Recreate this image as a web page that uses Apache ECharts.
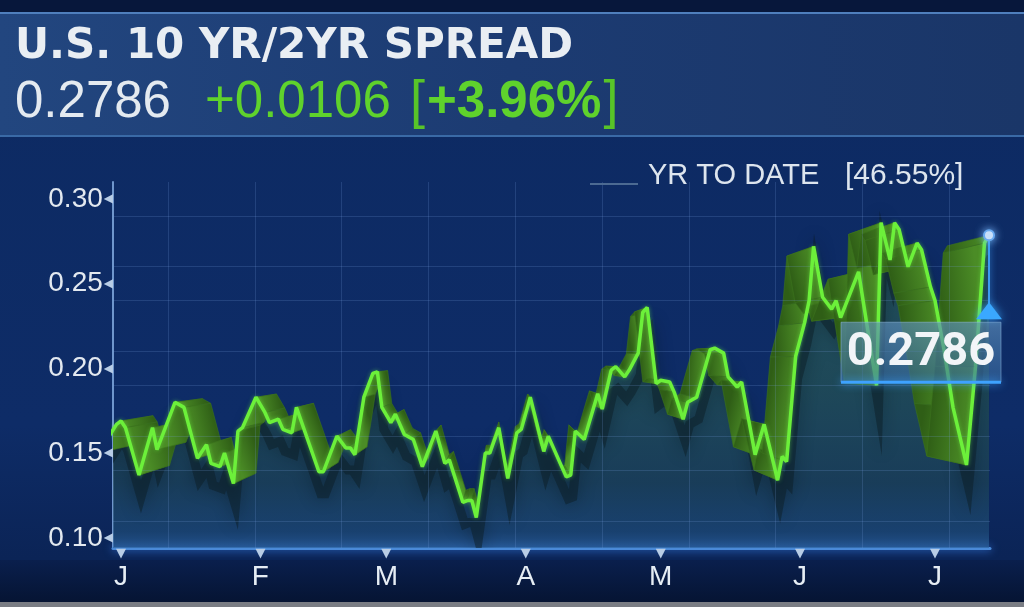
<!DOCTYPE html>
<html>
<head>
<meta charset="utf-8">
<script src="https://cdn.jsdelivr.net/npm/echarts@6/dist/echarts.min.js"></script>
<style>
html,body{margin:0;padding:0;background:#0c2659;}
#chart{width:1024px;height:607px;}
</style>
</head>
<body>
<div id="chart"></div>
<script>
// ---------------- data ----------------
const TITLE = 'U.S. 10 YR/2YR SPREAD';
const LAST_TEXT = '0.2786';
const CHANGE_TEXT = '+0.0106';
const CHANGE_PCT = '+3.96%';
const YTD_LABEL = 'YR TO DATE';
const YTD_PCT = '46.55%';

const DATES = [
 '2018-12-27','2018-12-31','2019-01-01','2019-01-02','2019-01-05','2019-01-08','2019-01-09','2019-01-13','2019-01-15','2019-01-18',
 '2019-01-20','2019-01-21','2019-01-23','2019-01-24','2019-01-26','2019-01-27','2019-01-28','2019-01-31','2019-02-02','2019-02-03',
 '2019-02-05','2019-02-06','2019-02-08','2019-02-09','2019-02-14','2019-02-15','2019-02-18','2019-02-20','2019-02-21','2019-02-22',
 '2019-02-24','2019-02-26','2019-02-27','2019-02-28','2019-03-02','2019-03-03','2019-03-05','2019-03-07','2019-03-09','2019-03-12',
 '2019-03-14','2019-03-15','2019-03-18','2019-03-19','2019-03-20','2019-03-21','2019-03-23','2019-03-24','2019-03-26','2019-03-28',
 '2019-03-30','2019-03-31','2019-04-02','2019-04-05','2019-04-06','2019-04-10','2019-04-11','2019-04-12','2019-04-14','2019-04-17',
 '2019-04-18','2019-04-20','2019-04-21','2019-04-23','2019-04-24','2019-04-26','2019-04-27','2019-04-28','2019-04-30','2019-05-01',
 '2019-05-03','2019-05-04','2019-05-06','2019-05-07','2019-05-09','2019-05-12','2019-05-13','2019-05-15','2019-05-16','2019-05-18',
 '2019-05-19','2019-05-22','2019-05-24','2019-05-27','2019-05-28','2019-05-29','2019-05-31','2019-06-02','2019-06-03','2019-06-04',
 '2019-06-06','2019-06-08','2019-06-09','2019-06-10','2019-06-14','2019-06-15','2019-06-18','2019-06-19','2019-06-21','2019-06-22',
 '2019-06-23','2019-06-25','2019-06-27','2019-06-28','2019-06-30','2019-07-01','2019-07-03','2019-07-05','2019-07-08','2019-07-10',
 '2019-07-12','2019-07-13'
];
const VALUES = [
 0.150,0.167,0.169,0.165,0.137,0.165,0.152,0.180,0.177,0.147,
 0.155,0.144,0.142,0.150,0.132,0.163,0.165,0.183,0.174,0.168,
 0.170,0.164,0.162,0.177,0.139,0.139,0.160,0.153,0.153,0.149,
 0.183,0.197,0.198,0.177,0.168,0.173,0.161,0.158,0.142,0.163,
 0.144,0.146,0.121,0.122,0.122,0.112,0.150,0.150,0.165,0.135,
 0.162,0.164,0.183,0.151,0.160,0.136,0.137,0.163,0.158,0.185,
 0.176,0.199,0.201,0.195,0.199,0.209,0.233,0.236,0.191,0.193,
 0.192,0.186,0.170,0.180,0.183,0.211,0.212,0.209,0.195,0.189,
 0.192,0.149,0.167,0.134,0.148,0.145,0.207,0.227,0.240,0.272,
 0.242,0.235,0.240,0.230,0.257,0.240,0.190,0.286,0.264,0.286,
 0.282,0.260,0.274,0.270,0.248,0.240,0.211,0.177,0.143,0.201,
 0.274,0.2786
];
const MONTH_DATES = ['2019-01-01','2019-02-01','2019-03-01','2019-04-01','2019-05-01','2019-06-01','2019-07-01'];
const MONTH_LABELS = ['J','F','M','A','M','J','J'];
const Y_TICKS = [0.10, 0.15, 0.20, 0.25, 0.30];

// ---------------- helpers ----------------
function ts(s){ const p = s.split(/[- :]/).map(Number); return new Date(p[0], p[1]-1, p[2], p[3]||0, p[4]||0).getTime(); }
const T = DATES.map(ts);
const MONTH_T = MONTH_DATES.map(ts);
const LINE_DATA = T.map((t,i)=>[t, VALUES[i]]);
const RIB_DATA = T.slice(0,-1).map((t,i)=>[t, VALUES[i], T[i+1], VALUES[i+1]]);
const LAST = [T[T.length-1], VALUES[VALUES.length-1]];
const DAY = 86400000;

// style constants
const X_MIN = ts('2018-12-30 05:18');
const X_MAX = ts('2019-07-13 05:18');
const VP = [ts('2019-03-26'), 0.205];   // perspective centre of the 3D ribbon
const DEPTH = 0.085;
const GRID_Y0 = 0.1117, GRID_DY = 0.02545;
const GRID_X0 = ts('2019-01-01') + 10.45*DAY, GRID_DX = 19.3*DAY;

const gridLines = [];
for (let k=0;k<8;k++) gridLines.push({yAxis: GRID_Y0 + k*GRID_DY});
for (let k=0;k<10;k++) gridLines.push({xAxis: GRID_X0 + k*GRID_DX});

function toBack(p, c){ return [p[0] + (c[0]-p[0])*DEPTH, p[1] + (c[1]-p[1])*DEPTH]; }

const chart = echarts.init(document.getElementById('chart'), null, {renderer:'canvas'});
const SANS = '"Liberation Sans", Arial, sans-serif';

const option = {
  animation: false,
  backgroundColor: new echarts.graphic.LinearGradient(0,0,0,1,[
    {offset:0,color:'#0d2a62'},{offset:0.7,color:'#0e2c67'},{offset:1,color:'#0a2150'}]),
  grid: {left:113, right:34, top:182, bottom:59},
  xAxis: {
    type:'value', min:X_MIN, max:X_MAX,
    axisLine:{show:true, lineStyle:{color:'#4a8ad8', width:3, shadowColor:'#3f8cff', shadowBlur:8}},
    axisTick:{show:false},
    splitLine:{show:false},
    axisLabel:{
      show:true, margin:0, customValues: MONTH_T,
      formatter: function(v){ const i = MONTH_T.indexOf(+v); return i<0 ? '' : '{t|▼}\n{m|'+MONTH_LABELS[i]+'}'; },
      rich:{
        t:{fontSize:13, lineHeight:11, color:'#b8cde6', fontFamily:'"DejaVu Sans"'},
        m:{fontSize:28, lineHeight:36, color:'#e6edf4', fontFamily:SANS}
      }
    }
  },
  yAxis: {
    type:'value', min:0.094, max:0.31,
    axisLine:{show:true, lineStyle:{color:'#6f96cc', width:2}},
    axisTick:{show:false},
    splitLine:{show:false},
    axisLabel:{
      show:true, margin:0, customValues: Y_TICKS,
      formatter: function(v){ return '{v|'+(+v).toFixed(2)+'}{t|◀}'; },
      rich:{
        v:{fontSize:28, color:'#e3e9f0', fontFamily:SANS, padding:[0,1,0,0]},
        t:{fontSize:12, color:'#b8cde6', fontFamily:'"DejaVu Sans"'}
      }
    }
  },
  graphic: [
    {type:'rect', z:-10, silent:true, shape:{x:0,y:0,width:1024,height:12}, style:{fill:'#07173b'}},
    {type:'rect', z:-9, silent:true, shape:{x:0,y:12,width:1024,height:125},
      style:{fill:new echarts.graphic.LinearGradient(0,0,1,0,[{offset:0,color:'#22467f'},{offset:0.5,color:'#1c3b72'},{offset:1,color:'#1a3668'}])}},
    {type:'line', z:-8, silent:true, shape:{x1:0,y1:13,x2:1024,y2:13}, style:{stroke:'#4f7fbd', lineWidth:2}},
    {type:'line', z:-8, silent:true, shape:{x1:0,y1:136,x2:1024,y2:136}, style:{stroke:'#3a6aa6', lineWidth:2}},
    {type:'rect', z:-10, silent:true, shape:{x:0,y:560,width:1024,height:47},
      style:{fill:new echarts.graphic.LinearGradient(0,0,0,1,[{offset:0,color:'#0a1f4d'},{offset:1,color:'#051330'}])}},
    {type:'rect', z:-7, silent:true, shape:{x:0,y:602,width:1024,height:5}, style:{fill:'#7a7d84'}},
    {type:'text', z:100, silent:true, style:{text:TITLE, x:15, y:47, verticalAlign:'middle',
      font:'bold 42px "DejaVu Sans", Roboto, sans-serif', fill:'#e9eef3'}},
    {type:'text', z:100, silent:true, style:{text:LAST_TEXT, x:15, y:103, verticalAlign:'middle',
      font:'51px '+SANS, fill:'#e4eaf0'}},
    {type:'text', z:100, silent:true, style:{text:CHANGE_TEXT, x:205, y:103, verticalAlign:'middle',
      font:'51px '+SANS, fill:'#5fd22c'}},
    {type:'text', z:100, silent:true, style:{text:'{b|[}{p|'+CHANGE_PCT+'}{b|]}', x:410, y:103, verticalAlign:'middle',
      rich:{b:{fontSize:54, fontFamily:SANS, fill:'#58c428', fontWeight:'normal'},
            p:{fontSize:51, fontFamily:SANS, fill:'#5fd22c', fontWeight:'bold', padding:[0,2,0,2]}}}},
    {type:'line', z:100, silent:true, shape:{x1:590,y1:184,x2:638,y2:184}, style:{stroke:'#4c6a92', lineWidth:2}},
    {type:'text', z:100, silent:true, style:{text:YTD_LABEL, x:648, y:176, verticalAlign:'middle',
      font:'29px '+SANS, fill:'#dde5ee'}},
    {type:'text', z:100, silent:true, style:{text:'['+YTD_PCT+']', x:845, y:176, verticalAlign:'middle',
      font:'30px '+SANS, fill:'#dde5ee'}}
  ],
  series: [
    { // area under the line + background grid lines
      type:'line', z:1, data:LINE_DATA, symbol:'none', silent:true,
      lineStyle:{width:0, opacity:0},
      areaStyle:{origin:'start', color:new echarts.graphic.LinearGradient(0,0,0,1,[
        {offset:0,color:'rgb(44,98,92)'},{offset:0.5,color:'rgb(37,84,82)'},
        {offset:0.8,color:'rgb(30,69,86)'},{offset:0.95,color:'rgb(30,76,120)'},{offset:1,color:'rgb(45,100,160)'}])},
      markLine:{silent:true, symbol:'none', label:{show:false}, animation:false,
        lineStyle:{color:'rgba(120,160,225,0.2)', width:1, type:'solid'}, data:gridLines}
    },
    { // soft shadow under the ribbon
      type:'custom', z:2, clip:true, silent:true, data:[LAST], encode:{x:0,y:1},
      renderItem:function(params, api){
        const pts = LINE_DATA.map(d=>{ const p = api.coord(d); return [p[0]+2, p[1]+22]; });
        return {type:'polyline', shape:{points:pts},
          style:{stroke:'rgba(12,30,38,0.5)', fill:null, lineWidth:9, lineJoin:'miter', miterLimit:14,
                 shadowBlur:16, shadowColor:'rgba(8,20,28,0.75)'}};
      }
    },
    { // 3D ribbon
      type:'custom', z:3, clip:true, silent:true, data:RIB_DATA, encode:{x:[0,2], y:[1,3]},
      renderItem:function(params, api){
        const f1 = api.coord([api.value(0), api.value(1)]);
        const f2 = api.coord([api.value(2), api.value(3)]);
        const c = api.coord(VP);
        const b1 = toBack(f1,c), b2 = toBack(f2,c);
        const mf = [(f1[0]+f2[0])/2,(f1[1]+f2[1])/2], mb = [(b1[0]+b2[0])/2,(b1[1]+b2[1])/2];
        const dx = mf[0]-mb[0], dy = mf[1]-mb[1];
        const ok = Math.abs(dx)+Math.abs(dy) > 0.5;
        const fill = ok ? new echarts.graphic.LinearGradient(mb[0],mb[1],mf[0],mf[1],
            [{offset:0,color:'#2f5e16'},{offset:1,color:'#4b8c26'}], true) : '#3f7a1f';
        return {type:'polygon', shape:{points:[f1,f2,b2,b1]},
          style:{fill:fill, stroke:'#3b721d', lineWidth:0.6}};
      }
    },
    { // bright line
      type:'line', z:5, data:LINE_DATA, symbol:'none', silent:true,
      lineStyle:{color:'#6cf03a', width:3.5, shadowColor:'rgba(110,255,70,0.45)', shadowBlur:4}
    },
    { // last value marker
      type:'custom', z:10, clip:false, silent:true, data:[LAST], encode:{x:0,y:1},
      renderItem:function(params, api){
        const p = api.coord([api.value(0), api.value(1)]);
        const txt = (+api.value(1)).toFixed(4);
        return {type:'group', children:[
          {type:'line', shape:{x1:p[0],y1:p[1],x2:p[0],y2:p[1]+72}, style:{stroke:'#3c9cf2', lineWidth:2, shadowBlur:6, shadowColor:'#3c9cf2'}},
          {type:'polygon', shape:{points:[[p[0],p[1]+67],[p[0]-13,p[1]+84],[p[0]+13,p[1]+84]]},
            style:{fill:'#3aa8ff', shadowBlur:10, shadowColor:'#3aa8ff'}},
          {type:'rect', shape:{x:p[0]-148,y:p[1]+87,width:160,height:60},
            style:{fill:new echarts.graphic.LinearGradient(0,0,0,1,[{offset:0,color:'rgba(95,145,190,0.65)'},{offset:1,color:'rgba(55,105,160,0.6)'}]),
                   stroke:'rgba(150,190,230,0.5)', lineWidth:1}},
          {type:'line', shape:{x1:p[0]-148,y1:p[1]+147,x2:p[0]+12,y2:p[1]+147},
            style:{stroke:'#3ea2ff', lineWidth:3, shadowBlur:8, shadowColor:'#3ea2ff'}},
          {type:'text', style:{text:txt, x:p[0]-68, y:p[1]+118, align:'center', verticalAlign:'middle',
            font:'bold 47px Roboto, sans-serif', fill:'#f2f5f8'}},
          {type:'circle', shape:{cx:p[0],cy:p[1],r:5},
            style:{fill:'#e2ecf8', stroke:'#6aaaf0', lineWidth:2, shadowBlur:8, shadowColor:'#7ab8ff'}}
        ]};
      }
    }
  ]
};
chart.setOption(option);
</script>
</body>
</html>
